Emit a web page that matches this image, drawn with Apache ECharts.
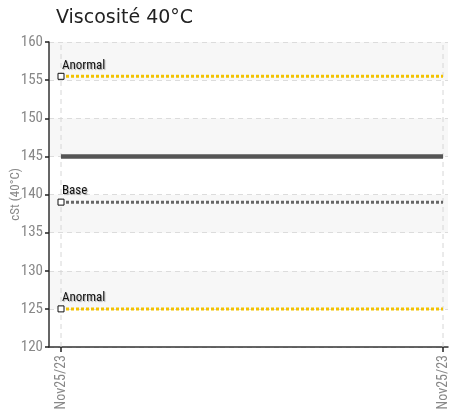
<!DOCTYPE html>
<html><head><meta charset="utf-8">
<script src="https://cdn.jsdelivr.net/npm/echarts@6/dist/echarts.min.js"></script>
<style>html,body{margin:0;padding:0;background:#fff}#c{width:449px;height:411px}</style>
</head><body><div id="c"></div>
<script>
const categories = ['Nov25/23', 'Nov25/23'];
const anormalHigh = [155.5, 155.5];
const currentVal = [145, 145];
const baseVal = [139, 139];
const anormalLow = [125, 125];
const yTicks = [120, 125, 130, 135, 140, 145, 150, 155, 160];

const narrow = "'Liberation Sans Narrow','Roboto Condensed','Liberation Sans',sans-serif";
const xMin = -12 / 382, xMax = 1 + 5 / 382;
function pts(arr, showFirst) {
  return arr.map((v, i) => ({
    value: [i, v],
    symbol: (showFirst && i === 0) ? 'rect' : 'none'
  }));
}
function refSeries(name, arr, color, labelText) {
  return {
    type: 'line', name: name, data: pts(arr, true),
    symbolSize: 6,
    itemStyle: { color: '#fff', borderColor: '#111', borderWidth: 1 },
    lineStyle: { color: color, width: 3, type: [3, 2] },
    label: {
      show: true, position: 'top', align: 'left', distance: 1, offset: [1, 0],
      formatter: p => p.dataIndex === 0 ? labelText : '',
      color: '#111', fontFamily: narrow, fontSize: 13,
      textShadowColor: 'rgba(0,0,0,0.3)', textShadowBlur: 1, textShadowOffsetX: 1, textShadowOffsetY: 1
    },
    z: 3, animation: false
  };
}
function vGrid(i) {
  return {
    type: 'line', name: 'vgrid' + i, silent: true,
    data: [[i, yTicks[0]], [i, yTicks[yTicks.length - 1]]],
    symbol: 'none', lineStyle: { color: '#d6d6d6', type: [5, 4], width: 1 }, z: 1
  };
}
const chart = echarts.init(document.getElementById('c'), null, { renderer: 'canvas' });
chart.setOption({
  animation: false,
  title: { text: 'Viscosité 40°C', left: 51, top: 4,
    textStyle: { fontFamily: "'DejaVu Sans',sans-serif", fontSize: 19, fontWeight: 'normal', color: '#222' } },
  grid: { left: 49, right: 1, top: 42, bottom: 64, containLabel: false, outerBoundsMode: 'none' },
  xAxis: {
    type: 'value', min: xMin, max: xMax,
    axisLine: { show: true, onZero: false, lineStyle: { color: '#333', width: 1.5 } },
    axisTick: { show: true, customValues: [0, 1], length: 5, inside: false, lineStyle: { color: '#222', width: 1.5 } },
    axisLabel: { show: true, customValues: [0, 1], rotate: 90, margin: 8,
      formatter: v => categories[Math.round(v)] || '',
      color: '#888', fontFamily: narrow, fontSize: 14 },
    splitLine: { show: false }
  },
  yAxis: {
    type: 'value', min: yTicks[0], max: yTicks[yTicks.length - 1], interval: 5,
    name: 'cSt (40°C)', nameLocation: 'middle', nameGap: 27, nameMoveOverlap: false,
    nameTextStyle: { color: '#888', fontFamily: narrow, fontSize: 13 },
    axisLine: { show: true, onZero: false, lineStyle: { color: '#333', width: 1.5 } },
    axisTick: { show: true, length: 4, lineStyle: { color: '#222', width: 1.5 } },
    axisLabel: { color: '#888', fontFamily: narrow, fontSize: 15, margin: 6 },
    splitLine: { show: true, lineStyle: { color: '#dcdcdc', type: [5, 4], width: 1 } },
    splitArea: { show: true, areaStyle: { color: ['#ffffff', '#f7f7f7'] } }
  },
  series: [
    vGrid(0), vGrid(1),
    refSeries('Anormal', anormalHigh, '#f2c200', 'Anormal'),
    {
      type: 'line', name: 'Valeur', data: pts(currentVal, false),
      symbol: 'none', lineStyle: { color: '#555', width: 4.5 }, z: 2
    },
    refSeries('Base', baseVal, '#666', 'Base'),
    refSeries('Anormal2', anormalLow, '#f2c200', 'Anormal')
  ]
});
</script></body></html>
